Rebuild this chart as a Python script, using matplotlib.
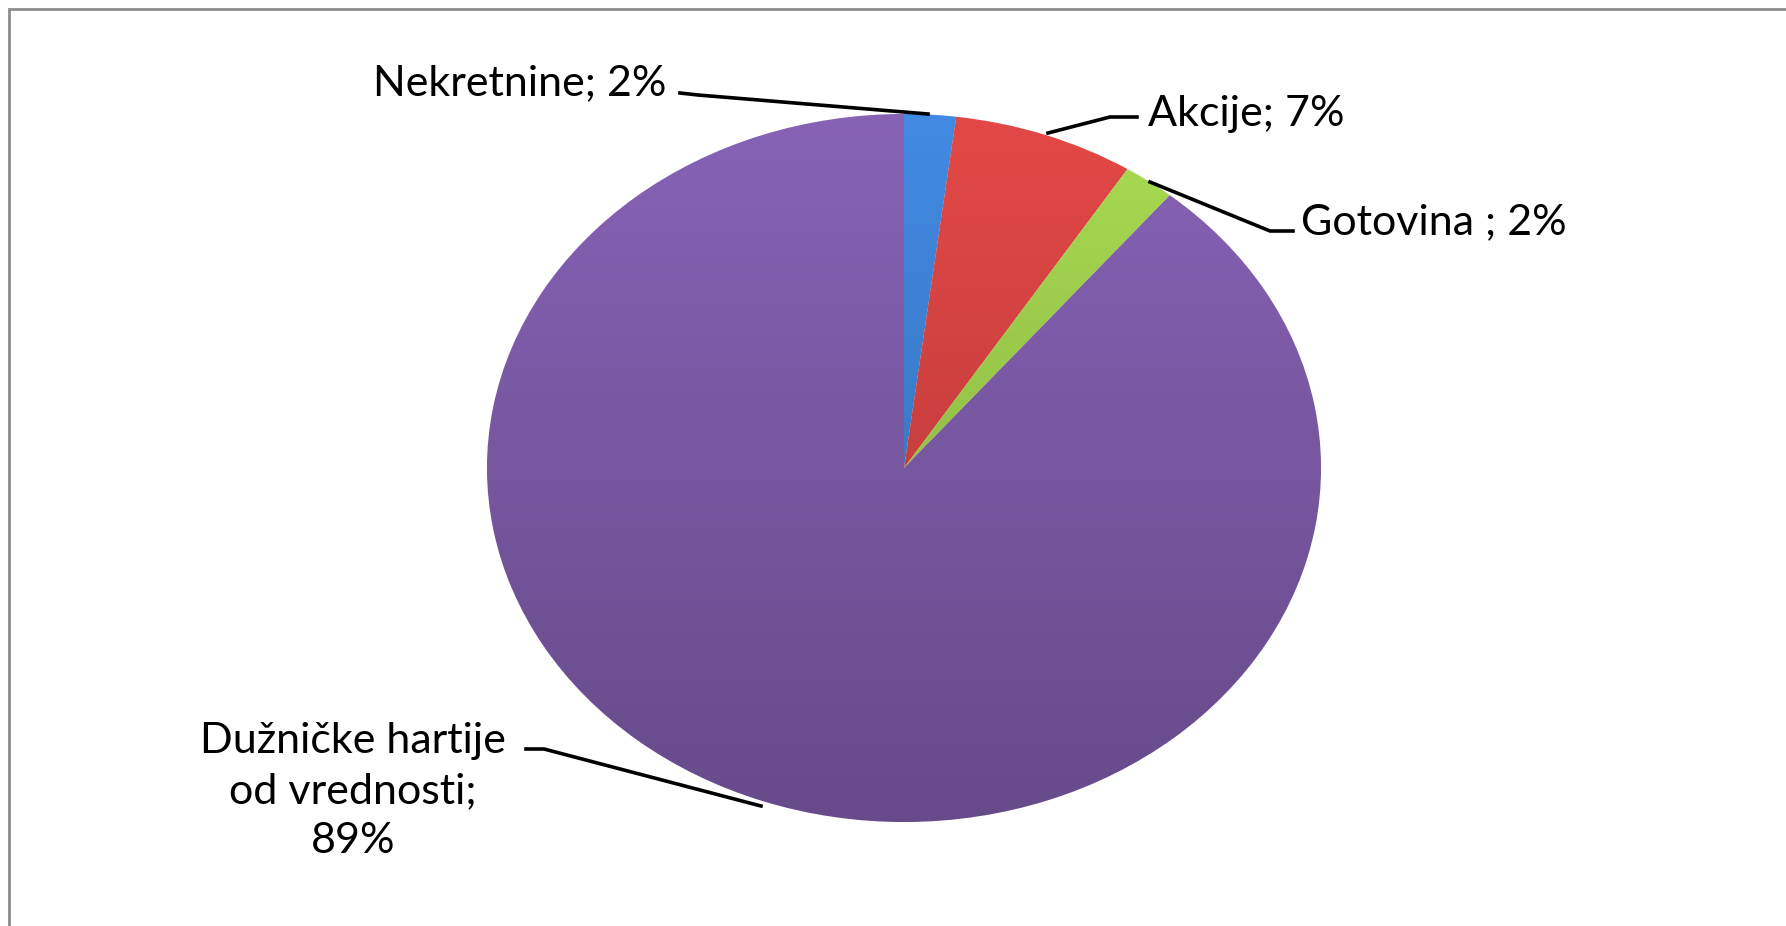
import matplotlib.pyplot as plt
import numpy as np
from matplotlib.patches import Rectangle

# shares of the portfolio
labels = ['Nekretnine; 2%', 'Akcije; 7%', 'Gotovina ; 2%',
          'Dužničke hartije\nod vrednosti;\n89%']
shares = [2, 7, 2, 89]
colors = ['#3D80D2', '#D24341', '#9CCB4B', '#7D5BA8']

W, H = 1786, 926
fig = plt.figure(figsize=(W / 100, H / 100), dpi=100)
ax = fig.add_axes([0, 0, 1, 1])

# pie centre / radii in pixels (elliptical pie)
cx, cy, rx, ry = 904, 468, 417, 354
def px(x, y):
    return (x - cx) / rx, (cy - y) / ry

wedges, _ = ax.pie(shares, colors=colors, startangle=90, counterclock=False,
                   wedgeprops=dict(edgecolor='#ffffff', linewidth=0.6))
ax.set_aspect('auto')
ax.set_xlim(px(0, 0)[0], px(W, 0)[0])
ax.set_ylim(px(0, H)[1], px(0, 0)[1])
ax.axis('off')

# vertical shading on every slice
grad = np.linspace(1.0, 0.0, 256).reshape(-1, 1)
for w, c in zip(wedges, colors):
    base = np.array(plt.matplotlib.colors.to_rgb(c))
    top = np.clip(base * 1.08, 0, 1)
    bot = base * 0.82
    img = top[None, None, :] * grad[:, :, None] + bot[None, None, :] * (1 - grad[:, :, None])
    im = ax.imshow(img, extent=[-1, 1, -1, 1], aspect='auto', zorder=w.get_zorder() + 0.1,
                   interpolation='bilinear')
    im.set_clip_path(w)

font = dict(family=['Lato', 'DejaVu Sans'], fontsize=31, color='#000000')

# labels with leader lines (pixel positions)
label_pos = [((666, 83), 'right', [(680, 93), (698, 95), (928, 114)]),
             ((1148, 114), 'left', [(1137, 117), (1110, 117), (1048, 133)]),
             ((1301, 222), 'left', [(1293, 231), (1270, 231), (1150, 182)]),
             ((353, 791), 'center', [(526, 749), (544, 749), (761, 806)])]
for lab, (pos, ha, line) in zip(labels, label_pos):
    ax.text(*px(*pos), lab, ha=ha, va='center', linespacing=1.4, **font)
    xs, ys = zip(*[px(*p) for p in line])
    ax.plot(xs, ys, color='#000000', lw=2.6, zorder=5)

# outer frame (right and bottom fall outside the picture)
fig.patches.append(Rectangle((9 / W, -0.1), 1.2, (H - 9) / H + 0.1, transform=fig.transFigure,
                             fill=False, edgecolor='#8c8c8c', lw=2))

fig.savefig('out.png', dpi=100)
